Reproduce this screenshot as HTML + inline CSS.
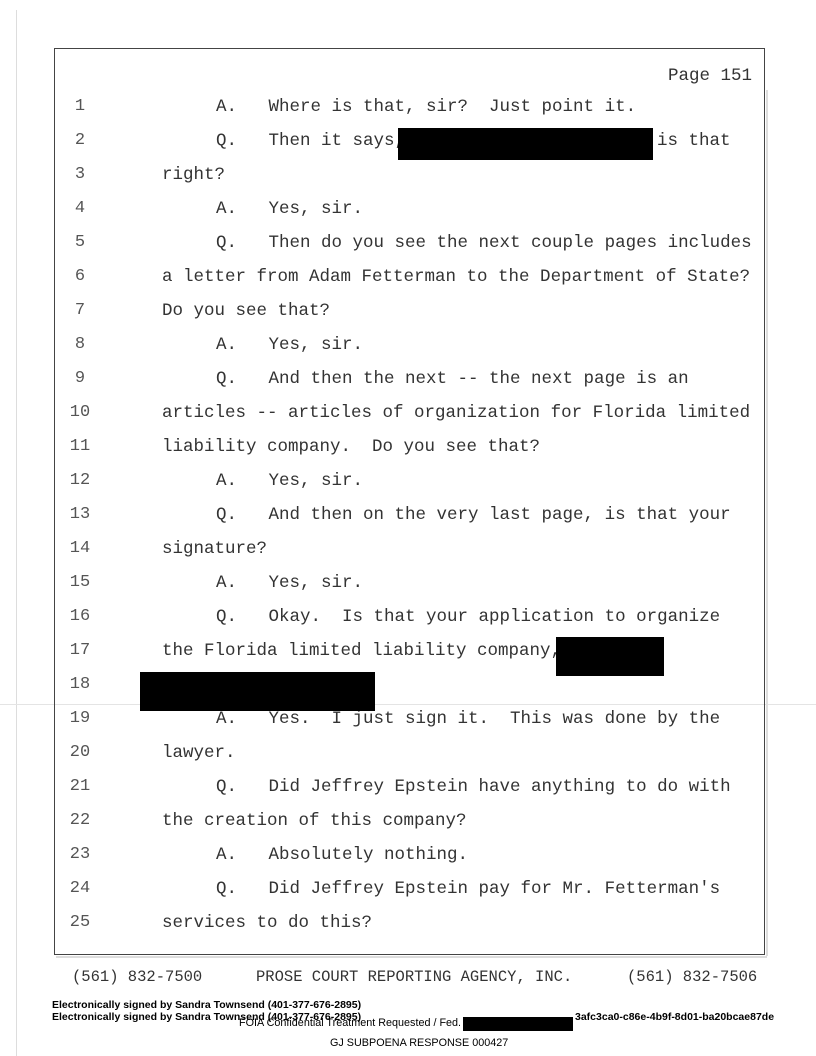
<!DOCTYPE html>
<html><head><meta charset="utf-8"><style>
body{margin:0;background:#fff;}
#p{position:relative;width:816px;height:1056px;overflow:hidden;background:#fff;font-family:"Liberation Mono",monospace;color:#333;}
.box{position:absolute;left:54px;top:48px;width:711px;height:907px;border:1.5px solid #444;box-sizing:border-box;}
.t{position:absolute;font-size:17.5px;white-space:pre;line-height:20px;}
.n{position:absolute;font-size:17px;line-height:20px;width:40px;text-align:center;left:60px;color:#555;}
.r{position:absolute;background:#000;}
.s{position:absolute;font-family:"Liberation Sans",sans-serif;font-size:10.5px;line-height:12px;white-space:pre;color:#000;}
</style></head><body><div id="p">
<div style="position:absolute;left:16px;top:10px;width:1px;height:1046px;background:#ddd"></div>
<div style="position:absolute;left:0;top:704px;width:816px;height:1px;background:#e4e4e4"></div>
<div style="position:absolute;left:766px;top:90px;width:2px;height:866px;background:#ddd"></div>
<div style="position:absolute;left:56px;top:956px;width:711px;height:2px;background:#ddd"></div>
<div class="box"></div>
<div class="t" style="left:668px;top:66px">Page 151</div>

<div class="n" style="top:97px">1</div><div class="t" style="left:216px;top:97px">A.   Where is that, sir?  Just point it.</div>
<div class="n" style="top:131px">2</div><div class="t" style="left:216px;top:131px">Q.   Then it says,</div><div class="t" style="left:657px;top:131px">is that</div>
<div class="n" style="top:165px">3</div><div class="t" style="left:162px;top:165px">right?</div>
<div class="n" style="top:199px">4</div><div class="t" style="left:216px;top:199px">A.   Yes, sir.</div>
<div class="n" style="top:233px">5</div><div class="t" style="left:216px;top:233px">Q.   Then do you see the next couple pages includes</div>
<div class="n" style="top:267px">6</div><div class="t" style="left:162px;top:267px">a letter from Adam Fetterman to the Department of State?</div>
<div class="n" style="top:301px">7</div><div class="t" style="left:162px;top:301px">Do you see that?</div>
<div class="n" style="top:335px">8</div><div class="t" style="left:216px;top:335px">A.   Yes, sir.</div>
<div class="n" style="top:369px">9</div><div class="t" style="left:216px;top:369px">Q.   And then the next -- the next page is an</div>
<div class="n" style="top:403px">10</div><div class="t" style="left:162px;top:403px">articles -- articles of organization for Florida limited</div>
<div class="n" style="top:437px">11</div><div class="t" style="left:162px;top:437px">liability company.  Do you see that?</div>
<div class="n" style="top:471px">12</div><div class="t" style="left:216px;top:471px">A.   Yes, sir.</div>
<div class="n" style="top:505px">13</div><div class="t" style="left:216px;top:505px">Q.   And then on the very last page, is that your</div>
<div class="n" style="top:539px">14</div><div class="t" style="left:162px;top:539px">signature?</div>
<div class="n" style="top:573px">15</div><div class="t" style="left:216px;top:573px">A.   Yes, sir.</div>
<div class="n" style="top:607px">16</div><div class="t" style="left:216px;top:607px">Q.   Okay.  Is that your application to organize</div>
<div class="n" style="top:641px">17</div><div class="t" style="left:162px;top:641px">the Florida limited liability company,</div>
<div class="n" style="top:675px">18</div>
<div class="n" style="top:709px">19</div><div class="t" style="left:216px;top:709px">A.   Yes.  I just sign it.  This was done by the</div>
<div class="n" style="top:743px">20</div><div class="t" style="left:162px;top:743px">lawyer.</div>
<div class="n" style="top:777px">21</div><div class="t" style="left:216px;top:777px">Q.   Did Jeffrey Epstein have anything to do with</div>
<div class="n" style="top:811px">22</div><div class="t" style="left:162px;top:811px">the creation of this company?</div>
<div class="n" style="top:845px">23</div><div class="t" style="left:216px;top:845px">A.   Absolutely nothing.</div>
<div class="n" style="top:879px">24</div><div class="t" style="left:216px;top:879px">Q.   Did Jeffrey Epstein pay for Mr. Fetterman's</div>
<div class="n" style="top:913px">25</div><div class="t" style="left:162px;top:913px">services to do this?</div>

<div class="r" style="left:398px;top:128px;width:255px;height:32px"></div>
<div class="r" style="left:556px;top:637px;width:108px;height:39px"></div>
<div class="r" style="left:140px;top:672px;width:235px;height:39px"></div>

<div class="t" style="left:72px;top:967px;font-size:15.5px">(561) 832-7500</div>
<div class="t" style="left:256px;top:967px;font-size:15.5px">PROSE COURT REPORTING AGENCY, INC.</div>
<div class="t" style="left:627px;top:967px;font-size:15.5px">(561) 832-7506</div>
<div class="s" style="left:52px;top:999px;font-weight:bold">Electronically signed by Sandra Townsend (401-377-676-2895)</div>
<div class="s" style="left:52px;top:1011px;font-weight:bold">Electronically signed by Sandra Townsend (401-377-676-2895)</div>
<div class="s" style="left:575px;top:1011px;font-weight:bold">3afc3ca0-c86e-4b9f-8d01-ba20bcae87de</div>
<div class="s" style="left:239px;top:1017px;font-size:10.8px">FOIA Confidential Treatment Requested / Fed.</div>
<div class="r" style="left:463px;top:1017px;width:110px;height:14px"></div>
<div class="s" style="left:330px;top:1037px;font-size:10.8px">GJ SUBPOENA RESPONSE 000427</div>
</div></body></html>
